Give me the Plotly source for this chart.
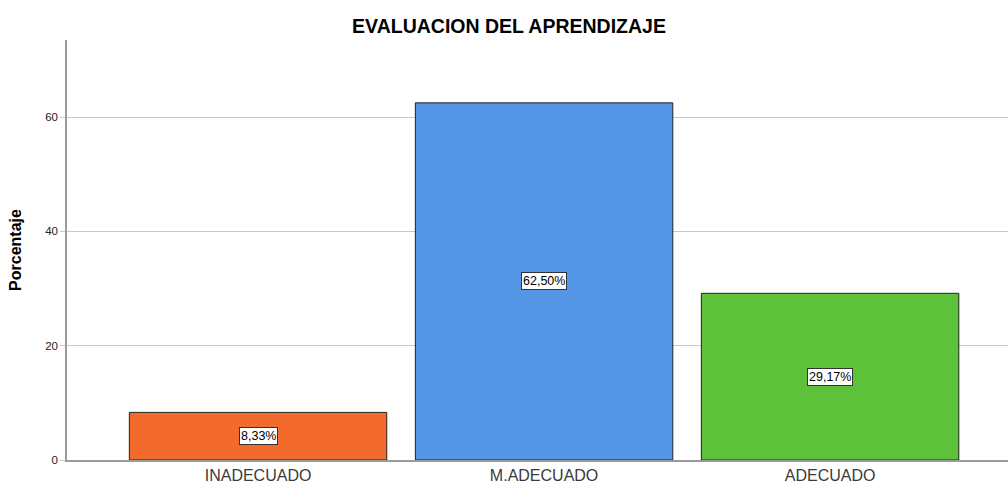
import plotly.graph_objects as go

categories = ["INADECUADO", "M.ADECUADO", "ADECUADO"]
values = [8.33, 62.50, 29.17]
labels = ["8,33%", "62,50%", "29,17%"]
colors = ["#F26A2C", "#5596E6", "#5DC13A"]
yticks = [0, 20, 40, 60]

fig = go.Figure()
fig.add_trace(go.Bar(
    x=list(range(len(categories))), y=values,
    width=0.9,
    marker=dict(color=colors, line=dict(color="#222222", width=1)),
    hoverinfo="skip",
))

for i, (v, t) in enumerate(zip(values, labels)):
    fig.add_annotation(x=i, y=v / 2, text=t, showarrow=False,
                       font=dict(family="Liberation Sans, Arial", size=12.5, color="black"),
                       bgcolor="white", bordercolor="#333333", borderwidth=1, borderpad=1)

fig.update_layout(
    width=1008, height=484,
    margin=dict(l=67, r=0, t=40, b=24),
    plot_bgcolor="white", paper_bgcolor="white",
    showlegend=False,
    title=dict(text="<b>EVALUACION DEL APRENDIZAJE</b>", x=0.505, xanchor="center",
               y=0.945, yanchor="middle",
               font=dict(family="Liberation Sans, Arial", size=19.5, color="black")),
    xaxis=dict(range=[-0.668, 2.622], tickmode="array", automargin=False,
               tickvals=list(range(len(categories))), ticktext=categories,
               showgrid=False, showline=True, linecolor="#9a9a9a", linewidth=1.5,
               ticks="", tickfont=dict(family="Liberation Sans, Arial", size=16, color="#3a3a3a"),
               zeroline=False),
    yaxis=dict(range=[0, 73.5], tickmode="array", tickvals=yticks, automargin=False,
               showgrid=True, gridcolor="#c8c8c8", gridwidth=1,
               showline=True, linecolor="#9a9a9a", linewidth=1.5,
               ticks="outside", ticklen=5, tickcolor="#c8c8c8",
               tickfont=dict(family="Liberation Sans, Arial", size=11.5, color="#222222"),
               zeroline=False,
               title=dict(text="<b>Porcentaje</b>", standoff=20,
                          font=dict(family="Liberation Sans, Arial", size=16, color="black"))),
)

fig.write_html("out.html", config={"displayModeBar": False},
               post_script="document.body.style.margin='0';document.body.style.overflow='hidden';")
